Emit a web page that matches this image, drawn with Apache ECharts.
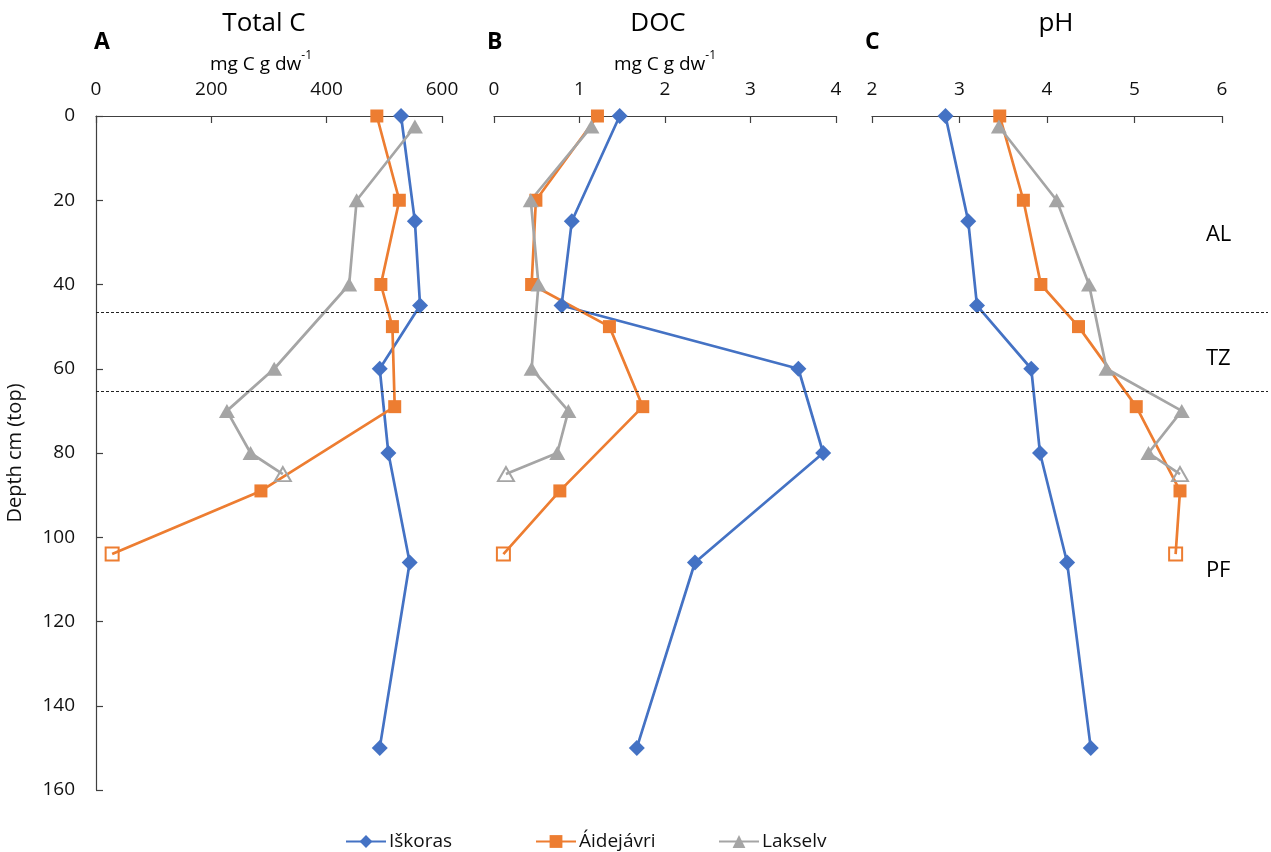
<!DOCTYPE html>
<html>
<head>
<meta charset="utf-8">
<title>Soil profiles: Total C, DOC and pH</title>
<script src="https://cdn.jsdelivr.net/npm/echarts@6/dist/echarts.min.js"></script>
<style>
  html, body { margin: 0; padding: 0; background: #fff; }
  #chart { width: 1271px; height: 852px; }
</style>
</head>
<body>
<div id="chart"></div>
<script>
// Sample depths (cm, top of layer) for each site
const depthIskoras = [0, 25, 45, 60, 80, 106, 150];
const depthAidejavri = [0, 20, 40, 50, 69, 89, 104];
const depthLakselv = [2.5, 20, 40, 60, 70, 80, 85];

// Total C (mg C g dw-1)
const totalCIskoras = [529, 553, 562, 492, 507, 544, 492];
const totalCAidejavri = [487, 526, 494, 514, 518, 286, 28];
const totalCLakselv = [553, 452, 439, 309, 227, 268, 324];

// Dissolved organic carbon (mg C g dw-1)
const docIskoras = [1.47, 0.91, 0.79, 3.56, 3.85, 2.35, 1.67];
const docAidejavri = [1.21, 0.49, 0.44, 1.35, 1.74, 0.77, 0.11];
const docLakselv = [1.14, 0.43, 0.52, 0.44, 0.87, 0.74, 0.14];

// pH
const phIskoras = [2.84, 3.10, 3.20, 3.82, 3.92, 4.23, 4.50];
const phAidejavri = [3.46, 3.73, 3.93, 4.36, 5.02, 5.52, 5.47];
const phLakselv = [3.45, 4.11, 4.48, 4.68, 5.54, 5.16, 5.52];

// Site names
const siteNames = ['Iškoras', 'Áidejávri', 'Lakselv'];

// Soil zones: active layer, transition zone, permafrost
const zoneBounds = [46.7, 65.4];
const zoneLabels = ['AL', 'TZ', 'PF'];
const zoneLabelDepths = [28.2, 57.7, 108];

// Panel headings
const panelTitles = ['Total C', 'DOC', 'pH'];
const panelLetters = ['A', 'B', 'C'];

const FONT = '"Open Sans", "Noto Sans", sans-serif';
const COLORS = ['#4472C4', '#ED7D31', '#A5A5A5'];
const SYMBOLS = ['diamond', 'rect', 'triangle'];
const SYMBOL_SIZES = [16, 13, [16, 14]];

const chart = echarts.init(document.getElementById('chart'));

// Grid geometry for the three panels plus a full-width overlay for zone lines
const panelLeft = [96, 494, 872];
const panelWidth = [346, 342, 350];
const gridTop = 116;
const gridHeight = 674;

const grids = panelLeft.map((l, i) => ({ left: l, width: panelWidth[i], top: gridTop, height: gridHeight }));
grids.push({ left: 96, right: 3, top: gridTop, height: gridHeight });

const axisLineStyle = { color: '#404040', width: 1.2 };
const tickLabel = { fontFamily: FONT, fontSize: 19, color: '#111' };

const xRanges = [
  { min: 0, max: 600, interval: 200 },
  { min: 0, max: 4, interval: 1 },
  { min: 2, max: 6, interval: 1 }
];

const xAxes = xRanges.map((r, i) => ({
  type: 'value',
  gridIndex: i,
  position: 'top',
  min: r.min, max: r.max, interval: r.interval,
  axisLine: { show: true, lineStyle: axisLineStyle },
  axisTick: { show: true, inside: true, length: 7, lineStyle: axisLineStyle },
  axisLabel: Object.assign({ margin: 17 }, tickLabel),
  splitLine: { show: false }
}));
xAxes.push({ type: 'value', gridIndex: 3, min: 0, max: 1, show: false });

const yAxes = [0, 1, 2, 3].map(i => ({
  type: 'value',
  gridIndex: i,
  inverse: true,
  min: 0, max: 160, interval: 20,
  show: i === 0,
  name: i === 0 ? 'Depth cm (top)' : '',
  nameLocation: 'middle',
  nameGap: 71,
  nameTextStyle: { fontFamily: FONT, fontSize: 20, color: '#111' },
  axisLine: { show: true, onZero: false, lineStyle: axisLineStyle },
  axisTick: { show: true, inside: true, length: 7, lineStyle: axisLineStyle },
  axisLabel: Object.assign({ margin: 21 }, tickLabel),
  splitLine: { show: false }
}));

const panelData = [
  [totalCIskoras, totalCAidejavri, totalCLakselv],
  [docIskoras, docAidejavri, docLakselv],
  [phIskoras, phAidejavri, phLakselv]
];
const siteDepths = [depthIskoras, depthAidejavri, depthLakselv];

const series = [];
panelData.forEach((sites, p) => {
  sites.forEach((vals, s) => {
    const depths = siteDepths[s];
    const data = vals.map((v, k) => {
      const item = { value: [v, depths[k]] };
      // The deepest sample at Áidejávri and Lakselv is shown with an open marker
      if (s > 0 && k === vals.length - 1) {
        item.itemStyle = { color: 'rgba(255,255,255,0)', borderColor: COLORS[s], borderWidth: 2 };
      }
      return item;
    });
    series.push({
      type: 'line',
      name: siteNames[s],
      xAxisIndex: p,
      yAxisIndex: p,
      data: data,
      symbol: SYMBOLS[s],
      symbolSize: SYMBOL_SIZES[s],
      showAllSymbol: true,
      lineStyle: { color: COLORS[s], width: 2.7 },
      itemStyle: { color: COLORS[s], borderWidth: 0 },
      emphasis: { disabled: true },
      animation: false,
      z: 3
    });
  });
});

// Zone boundaries and labels drawn on the overlay grid
series.push({
  type: 'scatter',
  xAxisIndex: 3,
  yAxisIndex: 3,
  symbolSize: 0,
  silent: true,
  animation: false,
  z: 1,
  itemStyle: { color: '#000', opacity: 1 },
  data: zoneLabels.map((t, i) => ({ value: [0.947, zoneLabelDepths[i]], name: t })),
  label: {
    show: true,
    position: 'right',
    distance: 0,
    formatter: p => p.name,
    fontFamily: FONT,
    fontSize: 22,
    color: '#000',
    opacity: 1
  },
  markLine: {
    silent: true,
    symbol: 'none',
    animation: false,
    label: { show: false },
    lineStyle: { color: '#222', width: 1, type: [3, 2] },
    data: zoneBounds.map(d => ({ yAxis: d }))
  }
});

// Headings, panel letters and unit subtitles
const titleCenters = [264, 658, 1056];
const subtitleCenters = [261, 665];
const letterLeft = [94, 487, 865];
const graphics = [];
panelTitles.forEach((t, i) => {
  graphics.push({
    type: 'text', x: titleCenters[i], y: 24,
    style: { text: t, fontFamily: FONT, fontSize: 26, fill: '#000', align: 'center', verticalAlign: 'middle' }
  });
  graphics.push({
    type: 'text', x: letterLeft[i], y: 42,
    style: { text: panelLetters[i], fontFamily: FONT, fontSize: 23, fontWeight: 'bold', fill: '#000', align: 'left', verticalAlign: 'middle' }
  });
});
subtitleCenters.forEach(c => {
  graphics.push({
    type: 'text', x: c, y: 62,
    style: {
      text: '{b|mg C g dw}{s|-1}',
      align: 'center', verticalAlign: 'middle',
      rich: {
        b: { fontFamily: FONT, fontSize: 19, lineHeight: 24, fill: '#000', verticalAlign: 'bottom' },
        s: { fontFamily: FONT, fontSize: 12, lineHeight: 12, fill: '#000', verticalAlign: 'top' }
      }
    }
  });
});

// One legend per site so each entry sits at its own position
const legendLeft = [345, 535, 718];
const legends = siteNames.map((n, i) => ({
  data: [n],
  left: legendLeft[i],
  top: 832,
  padding: 0,
  itemWidth: 40,
  itemHeight: 16,
  itemGap: 0,
  selectedMode: false,
  textStyle: { fontFamily: FONT, fontSize: 19, color: '#111', padding: [0, 0, 0, -2] }
}));

chart.setOption({
  animation: false,
  backgroundColor: '#fff',
  grid: grids,
  xAxis: xAxes,
  yAxis: yAxes,
  legend: legends,
  graphic: graphics,
  series: series
});
</script>
</body>
</html>
